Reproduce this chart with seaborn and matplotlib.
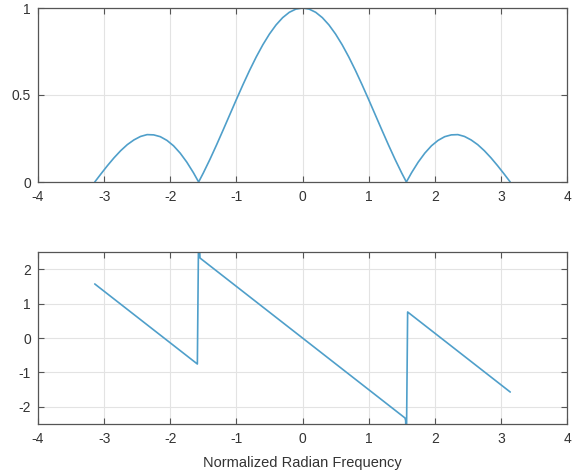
import matplotlib
matplotlib.use("Agg")
import matplotlib.pyplot as plt
import seaborn as sns

# Magnitude response
mag_w = [-3.1416, -3.05, -2.95, -2.85, -2.75, -2.65, -2.55, -2.45, -2.35, -2.25,
         -2.15, -2.05, -1.95, -1.85, -1.75, -1.65, -1.5708, -1.5, -1.4, -1.3,
         -1.2, -1.1, -1.0, -0.9, -0.8, -0.7, -0.6, -0.5, -0.4, -0.3, -0.2, -0.1,
         0.0,
         0.1, 0.2, 0.3, 0.4, 0.5, 0.6, 0.7, 0.8, 0.9, 1.0, 1.1, 1.2, 1.3, 1.4,
         1.5, 1.5708, 1.65, 1.75, 1.85, 1.95, 2.05, 2.15, 2.25, 2.35, 2.45, 2.55,
         2.65, 2.75, 2.85, 2.95, 3.05, 3.1416]
mag = [0.0, 0.0456, 0.0939, 0.1391, 0.1798, 0.2146, 0.2417, 0.2617, 0.2723, 0.2708,
       0.2604, 0.2391, 0.2080, 0.1660, 0.1143, 0.0537, 0.0, 0.0518, 0.1300, 0.2130,
       0.2991, 0.3867, 0.4742, 0.5597, 0.6417, 0.7185, 0.7885, 0.8503, 0.9027, 0.9446, 0.9752, 0.9938,
       1.0,
       0.9938, 0.9752, 0.9446, 0.9027, 0.8503, 0.7885, 0.7185, 0.6417, 0.5597, 0.4742, 0.3867, 0.2991, 0.2130, 0.1300,
       0.0518, 0.0, 0.0537, 0.1143, 0.1660, 0.2080, 0.2391, 0.2604, 0.2708, 0.2723, 0.2617, 0.2417,
       0.2146, 0.1798, 0.1391, 0.0939, 0.0456, 0.0]

# Phase response
ph_w = [-3.1416, -1.59, -1.5708, -1.55, 0.0, 1.55, 1.56, 1.5708, 1.59, 3.1416]
ph = [1.571, -0.756, 3.2, 2.325, 0.0, -2.325, -2.40, -3.2, 0.756, -1.571]

xticks = [-4, -3, -2, -1, 0, 1, 2, 3, 4]
xlabel = "Normalized Radian Frequency"

sns.set_style("white")
plt.rcParams['font.family'] = ['Liberation Sans', 'DejaVu Sans']
plt.rcParams['axes.unicode_minus'] = False

color = '#4f9fca'
fig = plt.figure(figsize=(5.76, 4.71), dpi=100)
ax1 = fig.add_axes([38/576, 1-182/471, 529/576, 174/471])
ax2 = fig.add_axes([38/576, 1-424/471, 529/576, 172/471])

sns.lineplot(x=mag_w, y=mag, ax=ax1, color=color, lw=1.2, sort=False, estimator=None)
sns.lineplot(x=ph_w, y=ph, ax=ax2, color=color, lw=1.2, sort=False, estimator=None)

ax1.set_xlim(-4, 4)
ax1.set_ylim(0, 1)
ax1.set_yticks([0, 0.5, 1])
ax1.set_yticklabels(['0', '0.5', '1'])
ax2.set_xlim(-4, 4)
ax2.set_ylim(-2.5, 2.5)
ax2.set_yticks([-2, -1, 0, 1, 2])
ax2.set_yticklabels(['-2', '-1', '0', '1', '2'])

for ax in (ax1, ax2):
    ax.set_xticks(xticks)
    ax.set_xticklabels([str(t) for t in xticks])
    ax.grid(True, color='#e3e3e3', lw=0.8)
    ax.set_axisbelow(True)
    for s in ax.spines.values():
        s.set_color('#555555')
        s.set_linewidth(0.9)
    ax.tick_params(direction='in', length=4, width=0.8, color='#555555',
                   top=True, right=True, labelsize=10, labelcolor='#333333',
                   bottom=True, left=True)
    ax.tick_params(axis='x', pad=6)
    ax.tick_params(axis='y', pad=5)

ax2.set_xlabel(xlabel, fontsize=10.5, color='#333333', labelpad=7)

fig.savefig("out.png", dpi=100)
